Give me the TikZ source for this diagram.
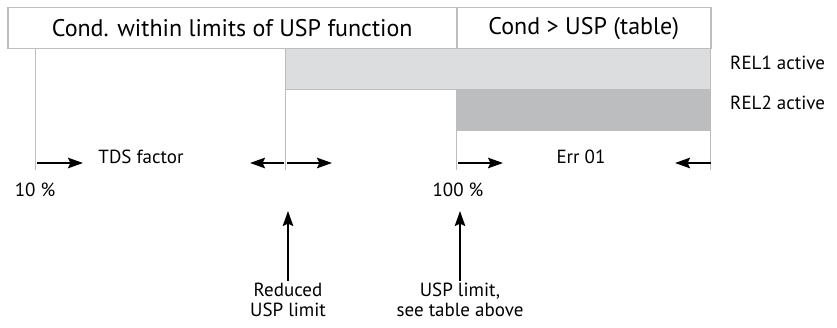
\documentclass[tikz,border=0pt]{standalone}
\usepackage{fontspec}
\setmainfont{PT Sans}
\usetikzlibrary{arrows.meta, positioning}
\definecolor{linegray}{HTML}{BDBDBD}
\definecolor{rellight}{HTML}{DCDDDF}
\definecolor{reldark}{HTML}{BCBDBF}

\begin{document}
\begin{tikzpicture}[
    x=1pt, y=-1pt,
    cell/.style={
        rectangle,
        draw=linegray,
        line width=1.5pt,
        fill=white,
        inner sep=0pt,
        minimum height=41pt,
        font=\fontsize{24}{27}\selectfont,
    },
    bar/.style={
        rectangle,
        draw=linegray,
        line width=0.8pt,
        inner sep=0pt,
    },
    txt/.style={
        font=\fontsize{19}{20.5}\selectfont,
        inner sep=2pt,
    },
    tickline/.style={
        linegray,
        line width=1pt,
    },
    arrowline/.style={
        black,
        line width=2pt,
        -{Stealth[length=15pt, width=10.5pt, inset=2.5pt]},
    },
]

\useasboundingbox (0,0) rectangle (837,328);

% Header cells
\node[cell, minimum width=449pt, anchor=north west] (within) at (7,7) {Cond. within limits of USP function};
\node[cell, minimum width=254pt, anchor=north west] (table) at (456,7) {Cond > USP (table)};

% Relay bars
\node[bar, fill=rellight, minimum width=425pt, minimum height=41pt, anchor=north west] (rel1) at (285,48) {};
\node[bar, fill=reldark, draw=none, minimum width=254pt, minimum height=42pt, anchor=north west] (rel2) at (456,89) {};
\node[txt, anchor=west] (rel1txt) at (728,63) {REL1 active};
\node[txt, anchor=west] (rel2txt) at (728,103) {REL2 active};

% Scale marks
\draw[tickline] (35,48) -- (35,170);
\draw[tickline] (285,89) -- (285,170);
\draw[tickline] (456,131) -- (456,170);
\draw[tickline] (710,48) -- (710,170);

% Range arrows
\coordinate (tdsa) at (37,163);
\coordinate (tdsb) at (83,163);
\coordinate (reda) at (284,163);
\coordinate (redb) at (250,163);
\coordinate (redc) at (287,163);
\coordinate (redd) at (332,163);
\coordinate (erra) at (458,163);
\coordinate (errb) at (503,163);
\coordinate (errc) at (711,163);
\coordinate (errd) at (675,163);
\draw[arrowline] (tdsa) -- (tdsb);
\draw[arrowline] (reda) -- (redb);
\draw[arrowline] (redc) -- (redd);
\draw[arrowline] (erra) -- (errb);
\draw[arrowline] (errc) -- (errd);
\node[txt] (tds) at (141,157) {TDS factor};
\node[txt] (err) at (581,157) {Err 01};

% Percent values
\node[txt] (low) at (35,190) {10 \%};
\node[txt] (high) at (458,190) {100 \%};

% Limits
\node[txt, align=center] (reduced) at (288,300) {Reduced\\USP limit};
\node[txt, align=center] (usp) at (460,300) {USP limit,\\see table above};
\coordinate (reducedtip) at (288,211);
\coordinate (usptip) at (460,211);
\draw[arrowline] (reduced.north) -- (reducedtip);
\draw[arrowline] (usp.north) -- (usptip);

\end{tikzpicture}
\end{document}
